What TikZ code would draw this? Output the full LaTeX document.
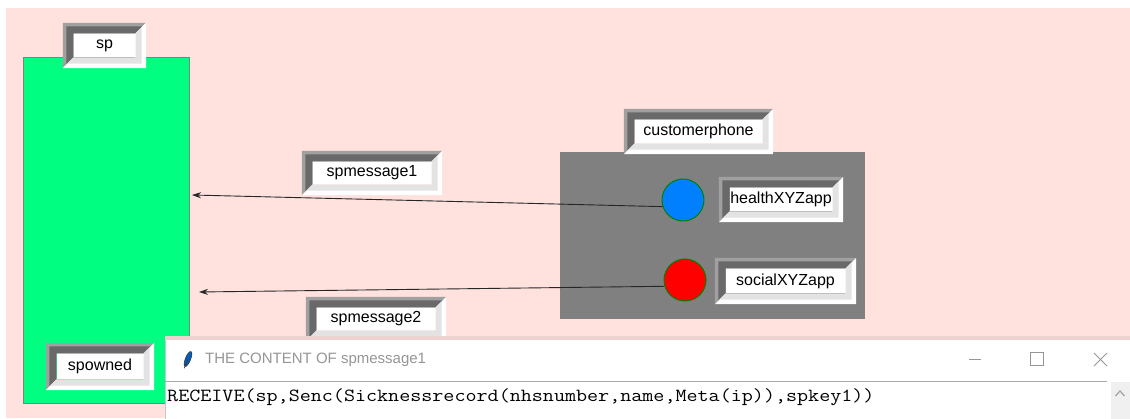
\documentclass[tikz,border=0pt]{standalone}
\usepackage{fontspec}
\setmainfont{Liberation Sans}
\usepackage{graphicx}
\usetikzlibrary{arrows.meta}
\definecolor{bgpink}{RGB}{255,225,222}
\definecolor{shadowpink}{RGB}{238,210,208}
\definecolor{spgreen}{RGB}{0,255,128}
\definecolor{bevA}{RGB}{160,160,160}
\definecolor{bevB}{RGB}{105,105,105}
\definecolor{bevC}{RGB}{227,227,227}
\definecolor{phonegray}{RGB}{128,128,128}
\definecolor{appblue}{RGB}{0,128,255}
\definecolor{ringgreen}{RGB}{0,128,0}
\definecolor{titlegray}{RGB}{150,150,150}
\definecolor{sepgray}{RGB}{170,170,170}
\definecolor{scrollgray}{RGB}{240,240,240}
\definecolor{edgegray}{RGB}{200,200,200}

\newcommand\bevelframe[1]{%
 \fill[bevA] ([shift={(-10.5pt,-10.5pt)}]#1.south west) -- ([shift={(-10.5pt,10.5pt)}]#1.north west) -- ([shift={(10.5pt,10.5pt)}]#1.north east) -- (#1.north east) -- (#1.north west) -- (#1.south west) -- cycle;
 \fill[bevB] ([shift={(-7pt,-7pt)}]#1.south west) -- ([shift={(-7pt,7pt)}]#1.north west) -- ([shift={(7pt,7pt)}]#1.north east) -- (#1.north east) -- (#1.north west) -- (#1.south west) -- cycle;
 \fill[white] ([shift={(-10.5pt,-10.5pt)}]#1.south west) -- ([shift={(10.5pt,-10.5pt)}]#1.south east) -- ([shift={(10.5pt,10.5pt)}]#1.north east) -- (#1.north east) -- (#1.south east) -- (#1.south west) -- cycle;
 \fill[bevC] ([shift={(-6pt,-6pt)}]#1.south west) -- ([shift={(6pt,-6pt)}]#1.south east) -- ([shift={(6pt,6pt)}]#1.north east) -- (#1.north east) -- (#1.south east) -- (#1.south west) -- cycle;
}

\tikzset{
  lbl/.style={fill=white, inner sep=0pt, text=black, font=\fontsize{16}{18}\selectfont},
  app/.style={circle, minimum size=42pt, inner sep=0pt, draw=ringgreen, line width=1pt},
  msg/.style={-{Stealth[length=9pt,width=6pt]}, line width=0.9pt, draw=black!85},
  winbtn/.style={draw=titlegray, line width=1pt},
}

\begin{document}
\begin{tikzpicture}[x=1pt, y=-1pt]
\useasboundingbox (0,0) rectangle (1130,419);
\fill[white] (0,0) rectangle (1130,419);
\fill[bgpink] (6,8) rectangle (1130,418);

% sp container
\draw[fill=spgreen, draw=phonegray, line width=1pt] (23,58) rectangle (189,404);

% customerphone container
\fill[phonegray] (560,152) rectangle (865,319);

% labels
\node[lbl, minimum width=62pt, minimum height=24pt] (splbl) at (104.5,45.5) {sp};
\bevelframe{splbl}
\node[lbl, minimum width=119pt, minimum height=23pt] (msg1lbl) at (372,173) {spmessage1};
\bevelframe{msg1lbl}
\node[lbl, minimum width=119pt, minimum height=23pt] (msg2lbl) at (376,319) {spmessage2};
\bevelframe{msg2lbl}
\node[lbl, minimum width=128pt, minimum height=24pt] (phonelbl) at (698.5,131.5) {customerphone};
\bevelframe{phonelbl}
\node[lbl, minimum width=103pt, minimum height=24pt] (healthlbl) at (781,199.5) {healthXYZapp};
\bevelframe{healthlbl}
\node[lbl, minimum width=120pt, minimum height=25pt] (sociallbl) at (785.5,281) {socialXYZapp};
\bevelframe{sociallbl}
\node[lbl, minimum width=87pt, minimum height=26pt] (ownedlbl) at (100,366.5) {spowned};
\bevelframe{ownedlbl}

% apps
\node[app, fill=appblue] (health) at (683,200) {};
\node[app, fill=red] (social) at (685,280) {};

% messages
\coordinate (in1) at (192,195);
\coordinate (in2) at (199,292);
\draw[msg] (health.198) -- (in1);
\draw[msg] (social.197) -- (in2);

% content window
\fill[shadowpink] (165,336) rectangle (1130,340);
\fill[white] (165,340) rectangle (1130,419);
\draw[edgegray, line width=0.8pt] (165.4,340) -- (165.4,419);
\draw[sepgray, line width=1.5pt] (165,381.5) -- (1107,381.5);
\fill[scrollgray] (1110.5,382.5) rectangle (1130,419);
\draw[bevA, line width=1.2pt] (1115.5,396) -- (1120,391) -- (1124.5,396);

% feather icon
\begin{scope}[rotate around={-22:(188,359)}]
\draw[fill=appblue!75!black, draw=black!80, line width=0.6pt] (188,359) ellipse (2.6 and 8);
\draw[black!80, line width=0.6pt] (188,359) -- (188,369);
\end{scope}
\node[anchor=west, inner sep=0pt, text=titlegray, font=\fontsize{15}{18}\selectfont] (title) at (205,360) {THE CONTENT OF spmessage1};

% title buttons
\draw[winbtn] (969,360) -- (981,360);
\draw[winbtn] (1030.5,353) rectangle (1043.5,366);
\draw[winbtn] (1094,353) -- (1107,366);
\draw[winbtn] (1094,366) -- (1107,353);

\node[anchor=base west, inner sep=0pt, font=\ttfamily\fontsize{18.5}{20}\selectfont] (content) at (167,401.7) {\scalebox{1.16}[1]{RECEIVE(sp,Senc(Sicknessrecord(nhsnumber,name,Meta(ip)),spkey1))}};
\end{tikzpicture}
\end{document}
